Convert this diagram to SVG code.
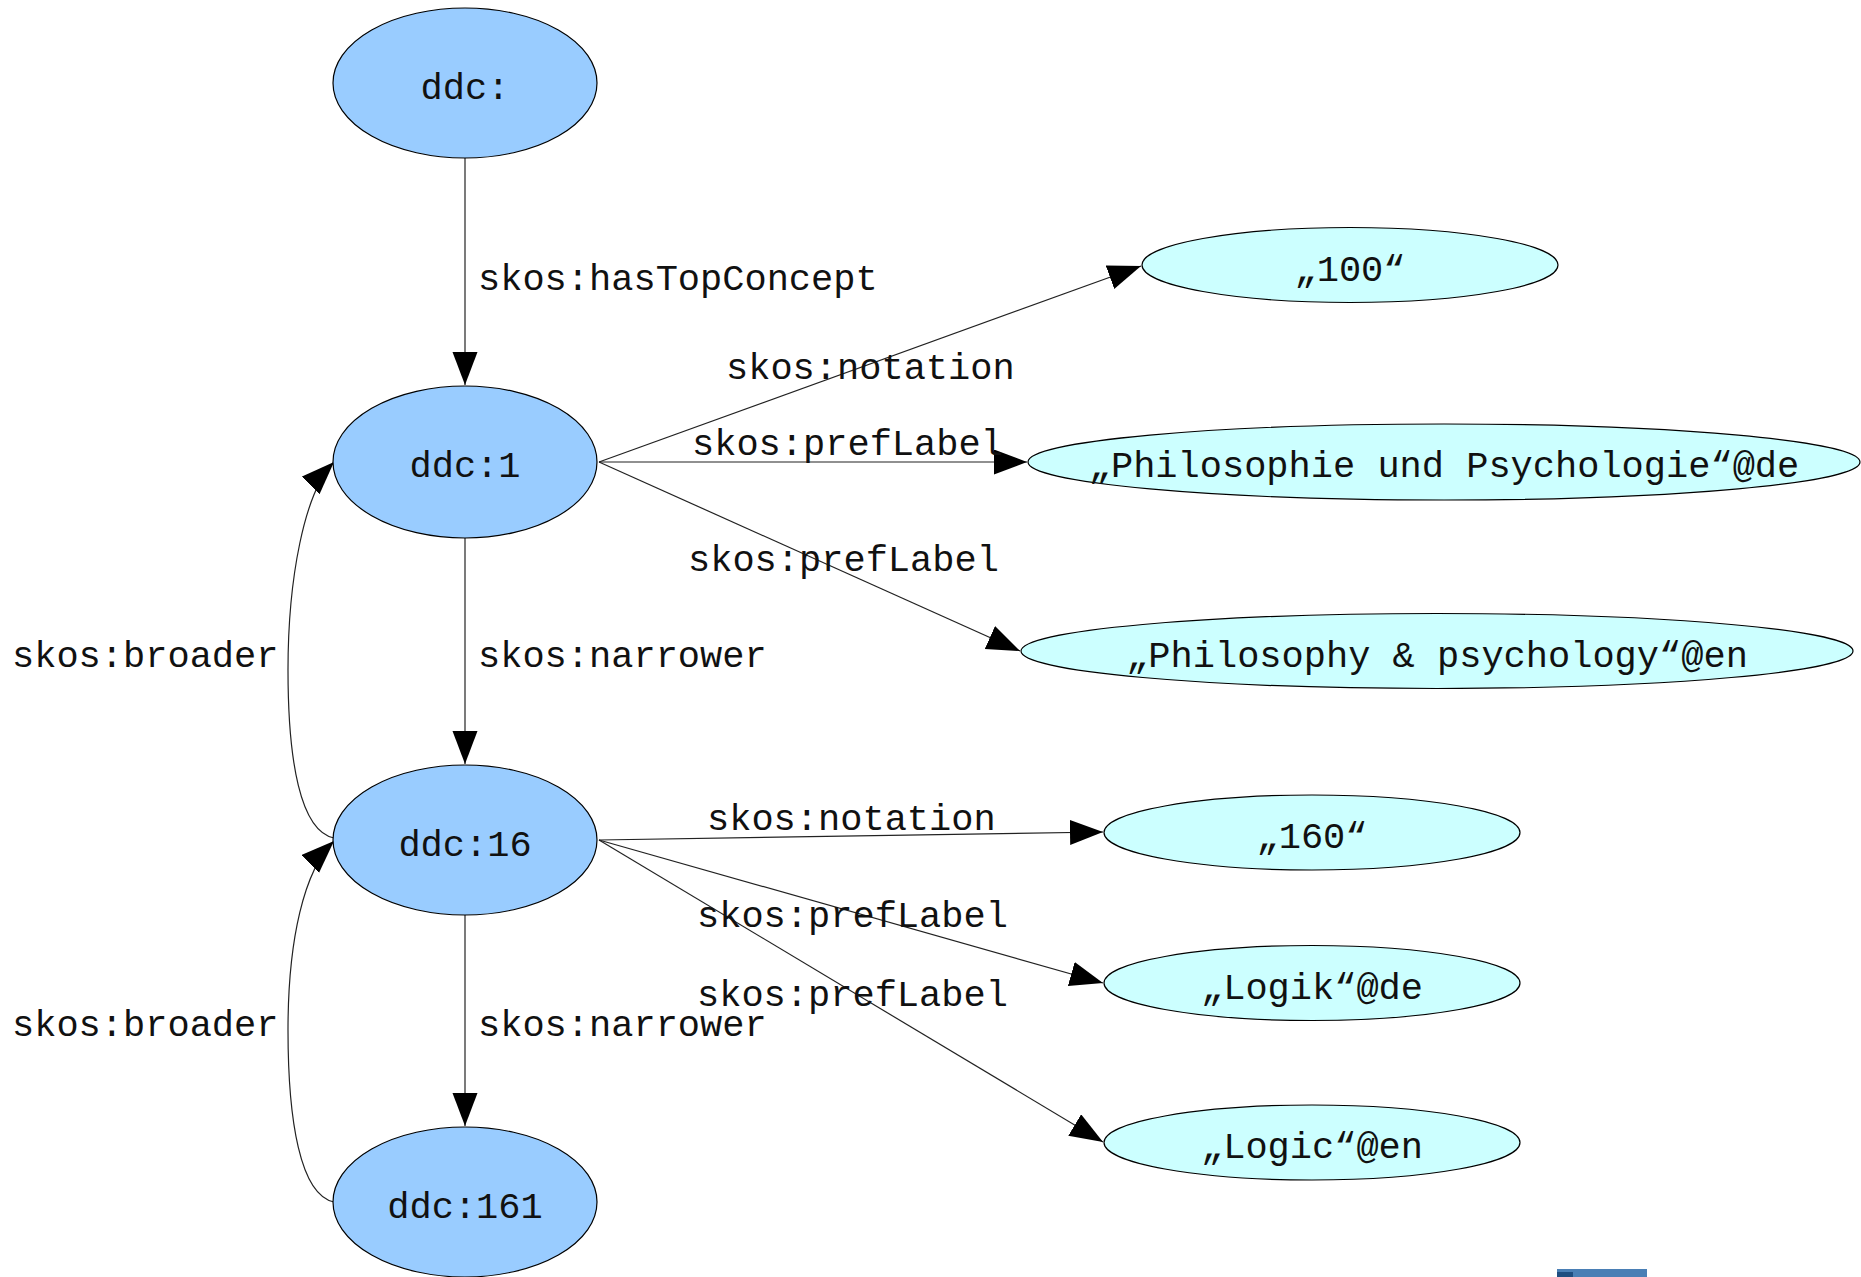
<svg xmlns="http://www.w3.org/2000/svg" width="1861" height="1277" viewBox="0 0 1861 1277">
  <style>
    .concept { fill: #99ccff; stroke: #000; stroke-width: 1.2; }
    .literal { fill: #ccffff; stroke: #000; stroke-width: 1.2; }
    .node-text { font-family: "Liberation Mono", "Courier New", monospace; font-size: 37px; fill: #111; text-anchor: middle; }
    .edge { fill: none; stroke: #222; stroke-width: 1.2; marker-end: url(#arrow); }
    .edge-label { font-family: "Liberation Mono", "Courier New", monospace; font-size: 37px; fill: #111; }
  </style>
  <defs>
    <marker id="arrow" markerUnits="userSpaceOnUse" markerWidth="34" markerHeight="26" refX="33" refY="12.5" orient="auto">
      <path d="M0,0 L33,12.5 L0,25 Z" fill="#000"/>
    </marker>
  </defs>
  <rect width="1861" height="1277" fill="#fff"/>

  <!-- connectors -->
  <g id="connectors">
    <path class="edge" d="M465,158 L465,385"/>
    <path class="edge" d="M465,538 L465,764"/>
    <path class="edge" d="M465,915 L465,1126"/>
    <path class="edge" d="M334,838 C300,831 288,760 288,670 C288,580 304,492 334,462"/>
    <path class="edge" d="M334,1202 C300,1195 288,1120 288,1030 C288,940 304,870 334,841"/>
    <path class="edge" d="M599,462 L1141,266"/>
    <path class="edge" d="M599,462 L1027,462"/>
    <path class="edge" d="M599,462 L1020,651"/>
    <path class="edge" d="M599,840 L1103,832"/>
    <path class="edge" d="M599,840 L1103,983"/>
    <path class="edge" d="M599,840 L1103,1142"/>

    <text class="edge-label" x="478" y="290">skos:hasTopConcept</text>
    <text class="edge-label" x="726" y="379">skos:notation</text>
    <text class="edge-label" x="692" y="455">skos:prefLabel</text>
    <text class="edge-label" x="688" y="571">skos:prefLabel</text>
    <text class="edge-label" x="12" y="667">skos:broader</text>
    <text class="edge-label" x="478" y="667">skos:narrower</text>
    <text class="edge-label" x="707" y="830">skos:notation</text>
    <text class="edge-label" x="697" y="927">skos:prefLabel</text>
    <text class="edge-label" x="697" y="1006">skos:prefLabel</text>
    <text class="edge-label" x="12" y="1036">skos:broader</text>
    <text class="edge-label" x="478" y="1036">skos:narrower</text>
  </g>

  <!-- concept nodes -->
  <g id="ddc-root">
    <ellipse class="concept" cx="465" cy="83" rx="132" ry="75"/>
    <text class="node-text" x="465" y="99">ddc:</text>
  </g>
  <g id="ddc-1">
    <ellipse class="concept" cx="465" cy="462" rx="132" ry="76"/>
    <text class="node-text" x="465" y="477">ddc:1</text>
  </g>
  <g id="ddc-16">
    <ellipse class="concept" cx="465" cy="840" rx="132" ry="75"/>
    <text class="node-text" x="465" y="856">ddc:16</text>
  </g>
  <g id="ddc-161">
    <ellipse class="concept" cx="465" cy="1202" rx="132" ry="75"/>
    <text class="node-text" x="465" y="1218">ddc:161</text>
  </g>

  <!-- literal nodes -->
  <g id="lit-100">
    <ellipse class="literal" cx="1350" cy="265" rx="208" ry="37.5"/>
    <text class="node-text" x="1350" y="281">„100“</text>
  </g>
  <g id="lit-philosophie-de">
    <ellipse class="literal" cx="1444" cy="462" rx="416" ry="38"/>
    <text class="node-text" x="1444" y="477">„Philosophie und Psychologie“@de</text>
  </g>
  <g id="lit-philosophy-en">
    <ellipse class="literal" cx="1437" cy="651" rx="416" ry="37.5"/>
    <text class="node-text" x="1437" y="667">„Philosophy &amp; psychology“@en</text>
  </g>
  <g id="lit-160">
    <ellipse class="literal" cx="1312" cy="832.5" rx="208" ry="37.5"/>
    <text class="node-text" x="1312" y="848">„160“</text>
  </g>
  <g id="lit-logik-de">
    <ellipse class="literal" cx="1312" cy="983" rx="208" ry="37.5"/>
    <text class="node-text" x="1312" y="999">„Logik“@de</text>
  </g>
  <g id="lit-logic-en">
    <ellipse class="literal" cx="1312" cy="1142.5" rx="208" ry="37.5"/>
    <text class="node-text" x="1312" y="1158">„Logic“@en</text>
  </g>

  <!-- clipped bar at the bottom edge -->
  <rect x="1557" y="1269" width="90" height="8" fill="#4a7fb5"/>
  <rect x="1557" y="1272" width="16" height="5" fill="#1f4e80"/>
</svg>
